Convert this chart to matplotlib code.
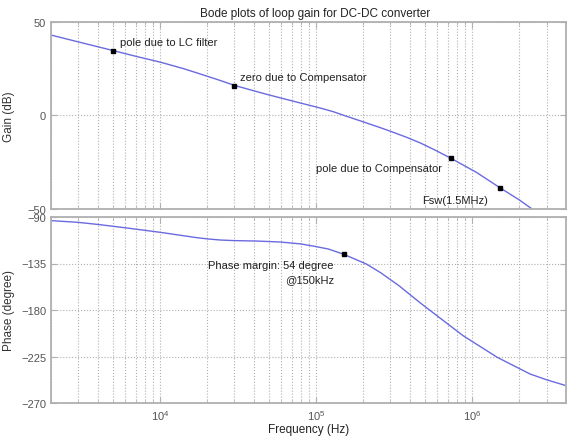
import matplotlib
matplotlib.use("Agg")
import matplotlib.pyplot as plt
from matplotlib.ticker import LogLocator, NullFormatter, FixedLocator

plt.rcParams['font.family'] = ['Liberation Sans', 'DejaVu Sans']

# Gain curve (Hz, dB)
gain_freq = [2e3, 3.07e3, 5.05e3, 7e3, 1e4, 1.4e4, 1.8e4, 2.4e4, 3e4, 4.83e4, 7.9e4,
             1.05e5, 1.29e5, 1.5e5, 2e5, 2.57e5, 3e5, 3.8e5, 4.64e5, 5.8e5, 7.33e5,
             1.07e6, 1.51e6, 2.0e6, 2.4e6]
gain_db = [43.0, 39.1, 34.6, 31.6, 28.5, 25.1, 22.2, 18.8, 16.0, 11.2, 6.6,
           4.0, 1.9, 0.0, -3.5, -6.6, -8.6, -11.8, -14.8, -18.7, -23.1,
           -30.7, -38.9, -45.3, -50.0]

# Phase curve (Hz, degree)
phase_freq = [2e3, 3e3, 4.1e3, 6.1e3, 1e4, 1.41e4, 1.7e4, 2.04e4, 2.45e4, 2.95e4, 4.2e4,
              5.9e4, 7.9e4, 9.5e4, 1.2e5, 1.5e5, 2.1e5, 2.6e5, 3.4e5, 4.6e5, 5.4e5,
              8.75e5, 1.45e6, 2.35e6, 3e6, 4e6]
phase_deg = [-93.5, -95.2, -97.4, -100.6, -104.8, -108.1, -109.9, -111.3, -112.3, -112.8, -113.3,
             -114.2, -116.0, -118.0, -121.0, -126.0, -135.5, -144.0, -156.5, -172.5, -180.6,
             -204.8, -225.8, -241.9, -247.5, -253.2]

# Marked points
gain_mark_freq = [5e3, 3e4, 7.33e5, 1.51e6]
gain_mark_db = [34.6, 15.9, -23.1, -38.9]
gain_mark_labels = ["pole due to LC filter", "zero due to Compensator",
                    "pole due to Compensator", "Fsw(1.5MHz)"]
gain_label_pos = [(5.53e3, 39.2), (3.25e4, 20.4), (1.0e5, -28.5), (4.78e5, -45.2)]

phase_mark_freq = [1.5e5]
phase_mark_deg = [-126.0]
phase_labels = ["Phase margin: 54 degree", "@150kHz"]
phase_label_pos = [(2.03e4, -136.5), (6.32e4, -150.0)]

gain_ticks = [-50, 0, 50]
phase_ticks = [-270, -225, -180, -135, -90]

W, H = 567, 439
fig = plt.figure(figsize=(W / 100, H / 100), dpi=100)
L, R = 51 / W, 566 / W
ax1 = fig.add_axes([L, 1 - 209.5 / H, R - L, (209.5 - 23) / H])
ax2 = fig.add_axes([L, 1 - 404 / H, R - L, (404 - 218) / H])

line_c = '#6a6ae0'
frame_c = '#b0b0b0'
grid_c = '#b0b0b0'
tick_c = '#555555'

for ax in (ax1, ax2):
    ax.set_xscale('log')
    ax.set_xlim(2e3, 4e6)
    ax.xaxis.set_major_locator(LogLocator(base=10, numticks=10))
    ax.xaxis.set_minor_locator(LogLocator(base=10, subs=range(2, 10), numticks=20))
    ax.xaxis.set_minor_formatter(NullFormatter())
    ax.grid(True, which='both', axis='x', linestyle=':', color=grid_c, linewidth=0.8)
    ax.grid(True, which='major', axis='y', linestyle=':', color=grid_c, linewidth=0.8)
    ax.tick_params(which='both', direction='in', top=True, right=True,
                   colors=frame_c, labelcolor=tick_c, labelsize=8)
    ax.tick_params(which='major', length=4)
    ax.tick_params(which='minor', length=2)
    for s in ax.spines.values():
        s.set_color(frame_c)
        s.set_linewidth(1.3)

ax1.plot(gain_freq, gain_db, color=line_c, linewidth=1.0)
ax1.plot(gain_mark_freq, gain_mark_db, linestyle='none', marker='s', markersize=3,
         color='black')
for txt, (x, y) in zip(gain_mark_labels, gain_label_pos):
    ax1.text(x, y, txt, fontsize=8, color='#222222', ha='left', va='center')
ax1.set_ylim(-50, 50)
ax1.yaxis.set_major_locator(FixedLocator(gain_ticks))
ax1.tick_params(axis='x', which='both', labelbottom=False)
ax1.set_ylabel('Gain (dB)', fontsize=8.5, color='#333333')
ax1.yaxis.set_label_coords(-36 / 515, 0.5)
fig.text(315 / W, 1 - 14 / H, 'Bode plots of loop gain for DC-DC converter',
         fontsize=8.5, color='#222222', ha='center', va='center')

ax2.plot(phase_freq, phase_deg, color=line_c, linewidth=1.0)
ax2.plot(phase_mark_freq, phase_mark_deg, linestyle='none', marker='s', markersize=3,
         color='black')
for txt, (x, y) in zip(phase_labels, phase_label_pos):
    ax2.text(x, y, txt, fontsize=8, color='#222222', ha='left', va='center')
ax2.set_ylim(-270, -90)
ax2.yaxis.set_major_locator(FixedLocator(phase_ticks))
ax2.set_ylabel('Phase (degree)', fontsize=8.5, color='#333333')
ax2.yaxis.set_label_coords(-36 / 515, 0.5)
ax2.set_xlabel('Frequency (Hz)', fontsize=8.5, color='#222222', labelpad=1)

fig.savefig('out.png', dpi=100, facecolor='white')
